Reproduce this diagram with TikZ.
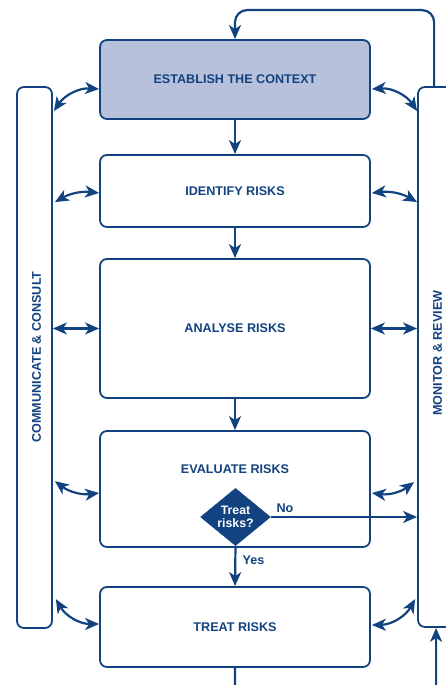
\documentclass[tikz,border=0pt]{standalone}
\usepackage{fontspec}
\setmainfont{Liberation Sans}
\usetikzlibrary{arrows.meta,shapes.geometric,calc}
\definecolor{dblue}{HTML}{12427F}
\definecolor{lblue}{HTML}{B8C1DB}
\tikzset{
  tip/.tip={Stealth[length=14pt,width=12pt,inset=4pt]},
  box/.style={draw=dblue, line width=1.8pt, rounded corners=7pt, minimum width=270pt, text=dblue, font=\bfseries\fontsize{12.6}{14}\selectfont, inner sep=0pt},
  bar/.style={draw=dblue, line width=1.8pt, rounded corners=7pt, inner sep=0pt},
  conn/.style={draw=dblue, line width=2.2pt, -tip},
  dconn/.style={draw=dblue, line width=2.2pt, tip-tip},
  lbl/.style={text=dblue, font=\bfseries\fontsize{12.6}{14}\selectfont, inner sep=0pt}
}
\begin{document}
\begin{tikzpicture}[x=1pt,y=-1pt]
\useasboundingbox (0,0) rectangle (446,685);
% boxes
\node[box, fill=lblue, minimum height=79pt] (est) at (235,79.5) {ESTABLISH THE CONTEXT};
\node[box, minimum height=72pt] (ide) at (235,191) {IDENTIFY RISKS};
\node[box, minimum height=139pt] (ana) at (235,328.5) {ANALYSE RISKS};
\node[box, minimum height=116pt] (eva) at (235,489) {};
\node[lbl] (evat) at (235,469) {EVALUATE RISKS};
\node[box, minimum height=80pt] (tre) at (235,627) {TREAT RISKS};
% side bars
\node[bar, minimum width=35pt, minimum height=541pt] (comm) at (34.5,357.5) {};
\node[lbl, rotate=90] (commt) at (36.5,357) {COMMUNICATE \& CONSULT};
\node[bar, minimum width=37pt, minimum height=540pt] (mon) at (436.5,357) {};
\node[lbl, rotate=90] (mont) at (437.5,353) {MONITOR \& REVIEW};
% diamond
\node[diamond, fill=dblue, draw=dblue, minimum width=70pt, minimum height=45pt, inner sep=0pt, text=white, align=center, font=\bfseries\fontsize{12.3}{13}\selectfont] (dia) at (235.5,517) {Treat\\[-0.5pt]risks?};
% main flow
\draw[conn] (est.south) -- (ide.north);
\draw[conn] (ide.south) -- (ana.north);
\draw[conn] (ana.south) -- (eva.north);
\draw[conn] (dia.south) -- (tre.north);
\node[lbl] (yes) at (253.5,560) {Yes};
\draw[conn] (dia.east) -- (dia.east -| mon.west);
\node[lbl] (no) at (285,508) {No};
% loops
\coordinate (topy) at ($(est.north)+(0,-29)$);
\draw[conn, rounded corners=12pt] ($(mon.north west)+(17,0)$) |- (topy) -- (est.north);
\coordinate (boty) at ($(tre.south)+(0,30)$);
\draw[conn, rounded corners=12pt] (tre.south) -- (boty) -| ($(mon.south west)+(19,0)$);
% left double arrows
\draw[dconn] ($(comm.north east)+(1,25)$) to[bend left=30] ($(est.west)+(0,9.5)$);
\draw[dconn] ($(comm.north east)+(2,116)$) to[bend left=18] ($(ide.west)+(0,2)$);
\draw[dconn] (comm.east |- ana.west) -- (ana.west);
\draw[dconn] ($(comm.north east)+(2,395)$) to[bend right=22] ($(eva.west)+(0,4)$);
\draw[dconn] ($(comm.north east)+(3,513)$) to[bend right=30] ($(tre.west)+(0,-3)$);
% right double arrows
\draw[dconn] ($(est.east)+(1,9.5)$) to[bend left=30] ($(mon.north west)+(0,25)$);
\draw[dconn] ($(ide.east)+(1,2)$) to[bend left=18] ($(mon.north west)+(0,116)$);
\draw[dconn] (ana.east) -- (ana.east -| mon.west);
\draw[dconn] ($(eva.east)+(1,4)$) to[bend right=22] ($(mon.north west)+(-3,396)$);
\draw[dconn] ($(tre.east)+(1,-2)$) to[bend right=30] ($(mon.north west)+(-2,513)$);
\end{tikzpicture}
\end{document}
